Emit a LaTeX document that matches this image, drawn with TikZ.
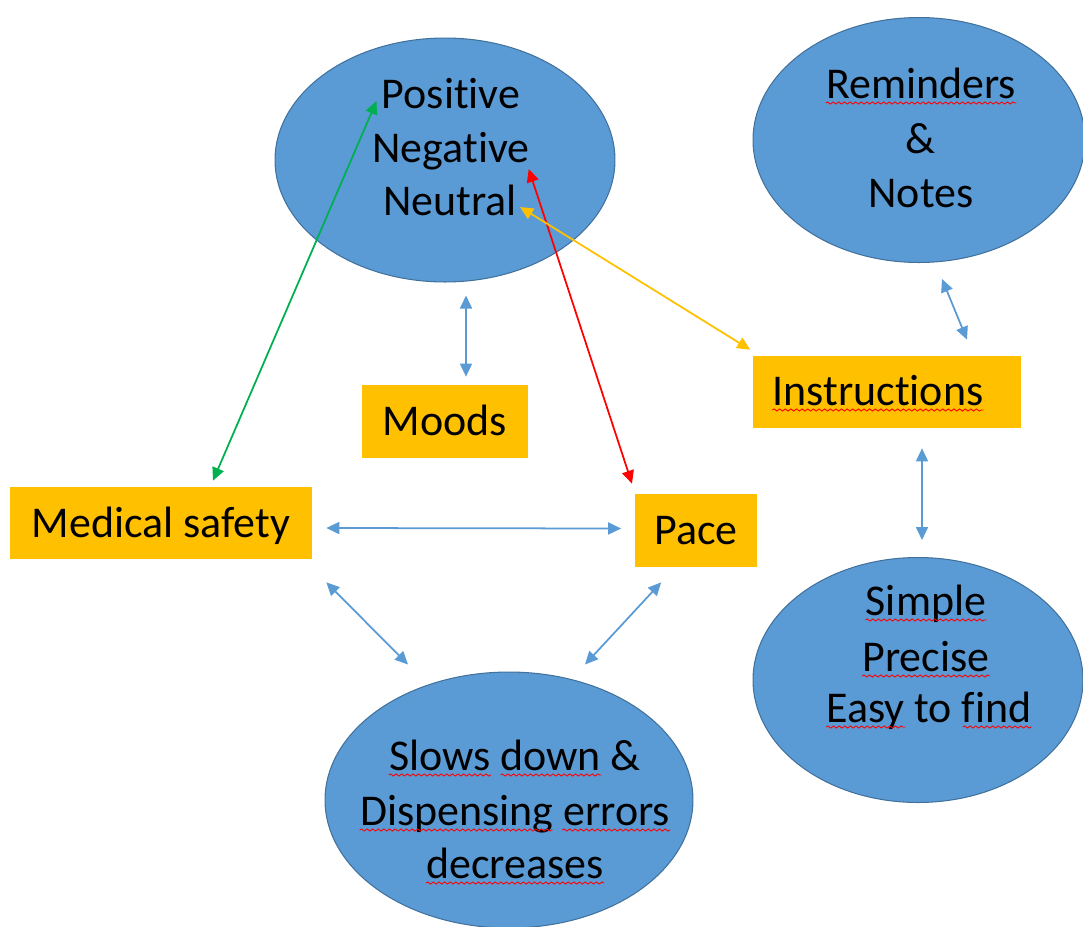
\documentclass[tikz,border=0pt]{standalone}
\usepackage{fontspec}
\setmainfont{Carlito}[Ligatures={NoCommon}]
\usepackage{tikz}
\usetikzlibrary{shapes.geometric,arrows.meta,calc,decorations.pathmorphing}
\definecolor{ellblue}{HTML}{5B9BD5}
\definecolor{ellline}{HTML}{41719C}
\definecolor{boxgold}{HTML}{FFC000}
\definecolor{linkgreen}{HTML}{00B050}

\begin{document}
\begin{tikzpicture}[x=0.02cm,y=-0.02cm,
    every node/.style={font=\fontsize{25}{30.6}\selectfont},
    bubble/.style={ellipse,fill=ellblue,draw=ellline,line width=0.6pt},
    tag/.style={fill=boxgold,inner sep=0pt,text height=18.5pt,text depth=2.5pt},
    word/.style={anchor=base,inner sep=0pt},
    squig/.style={red,line width=0.5pt,decorate,decoration={snake,amplitude=0.6pt,segment length=3.2pt}},
    link/.style={line width=1pt,{Triangle[length=0.26cm,width=0.24cm]}-{Triangle[length=0.26cm,width=0.24cm]}}]
    \useasboundingbox (0,0) rectangle (1083,927);
    \node[bubble,minimum width=6.8cm,minimum height=4.88cm] (moodell) at (445,160) {};
    \node[bubble,minimum width=6.64cm,minimum height=4.9cm] (remell) at (919,140) {};
    \node[bubble,minimum width=6.6cm,minimum height=4.9cm] (simell) at (918,680) {};
    \node[bubble,minimum width=7.36cm,minimum height=5.12cm] (slowell) at (509,800) {};
    \node[word] (pos) at (451,108) {Positive};
    \node[word] (neg) at (451,162) {Negative};
    \node[word] (neu) at (450,215) {Neutral};
    \node[word] (rem) at (921,98) {Reminders};
    \node[word] (amp) at (920,153) {\&};
    \node[word] (notes) at (921,207) {Notes};
    \node[word] (simp) at (926,615) {Simple};
    \node[word] (prec) at (926,671) {Precise};
    \node[word] (easy) at (929,722) {Easy to find};
    \node[word] (slows) at (515,770) {Slows down \&};
    \node[word] (disp) at (515,825) {Dispensing errors};
    \node[word] (decr) at (515,878) {decreases};
    \node[tag,minimum width=3.32cm,minimum height=1.46cm] (moods) at (445,421.5) {Moods};
    \node[tag,minimum width=5.38cm,minimum height=1.44cm] (instr) at (887,392) {};
    \node[word] (instrw) at (878,405) {Instructions};
    \node[tag,minimum width=6.04cm,minimum height=1.44cm] (med) at (161,523) {Medical safety};
    \node[tag,minimum width=2.46cm,minimum height=1.46cm] (pace) at (696,530.5) {Pace};
    \foreach \w in {rem,simp,prec,decr,instrw}
        \draw[squig] ($(\w.base west)+(0,5)$) -- ($(\w.base east)+(0,5)$);
    \draw[squig] ($(easy.base west)+(0,5)$) -- ($(easy.base west)!0.385!(easy.base east)+(0,5)$);
    \draw[squig] ($(easy.base west)!0.664!(easy.base east)+(0,5)$) -- ($(easy.base east)+(0,5)$);
    \draw[squig] ($(slows.base west)+(0,5)$) -- ($(slows.base west)!0.404!(slows.base east)+(0,5)$);
    \draw[squig] ($(slows.base west)!0.443!(slows.base east)+(0,5)$) -- ($(slows.base west)!0.842!(slows.base east)+(0,5)$);
    \draw[squig] ($(disp.base west)+(0,5)$) -- ($(disp.base west)!0.621!(disp.base east)+(0,5)$);
    \draw[squig] ($(disp.base west)!0.652!(disp.base east)+(0,5)$) -- ($(disp.base east)+(0,5)$);
    \draw[link,linkgreen] ($(med.north)+(52,-6)$) -- ($(pos.west)+(-5,8)$);
    \draw[link,red] ($(pace.north)+(-64,-10)$) -- ($(neg.base east)+(-1,7)$);
    \draw[link,boxgold] ($(instr.north west)+(-2,-6)$) -- ($(neu.base east)+(3,-8)$);
    \draw[link,ellblue] ($(moodell.south)+(21,13)$) -- ($(moods.north)+(21,-8)$);
    \draw[link,ellblue] ($(remell.south)+(23,16)$) -- ($(instr.north)+(80,-16)$);
    \draw[link,ellblue] ($(instr.south)+(35,20)$) -- ($(simell.north)+(4,-17)$);
    \draw[link,ellblue] ($(med.east)+(14,5)$) -- ($(pace.west)+(-13,-2)$);
    \draw[link,ellblue] ($(med.south east)+(14,23)$) -- ($(slowell.north)+(-101,-7)$);
    \draw[link,ellblue] ($(pace.south west)+(27,15)$) -- ($(slowell.north)+(76,-7)$);
\end{tikzpicture}
\end{document}
